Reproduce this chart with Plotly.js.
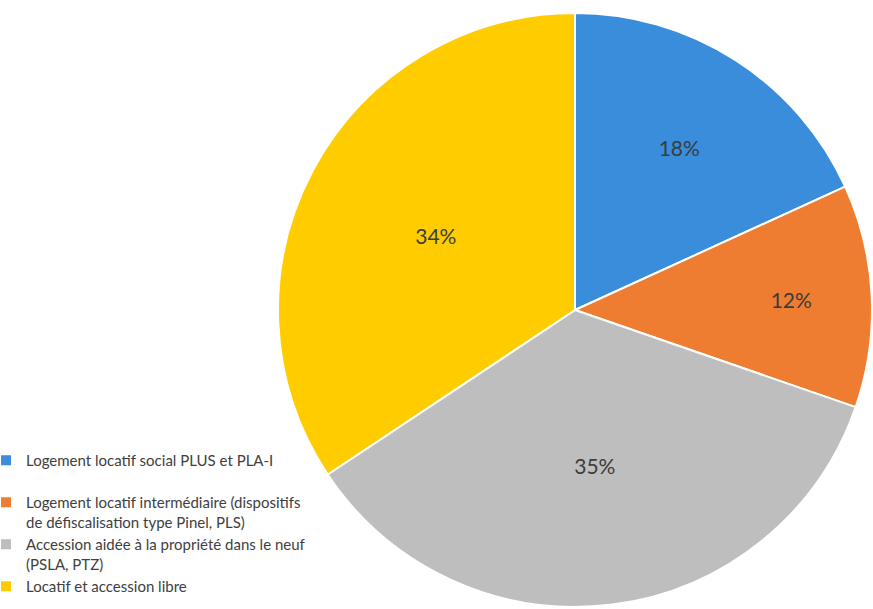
<!DOCTYPE html>
<html>
<head>
<meta charset="utf-8">
<script src="https://cdn.plot.ly/plotly-3.0.1.min.js"></script>
<style>html,body{margin:0;padding:0;background:#fff;}#chart{width:873px;height:609px;}</style>
</head>
<body>
<div id="chart"></div>
<script>
var categories = [
  "Logement locatif social PLUS et PLA-I<br> ",
  "Logement locatif intermédiaire (dispositifs<br>de défiscalisation type Pinel, PLS)",
  "Accession aidée à la propriété dans le neuf<br>(PSLA, PTZ)",
  "Locatif et accession libre"
];
var values = [18, 12, 35, 34];
var percentLabels = ["18%", "12%", "35%", "34%"];
var colors = ["#3a8ddb", "#ef7d31", "#bebebe", "#ffcc00"];

var trace = {
  type: "pie",
  labels: categories,
  values: values,
  text: percentLabels,
  textinfo: "text",
  texttemplate: "%{text}",
  hoverinfo: "label+text",
  sort: false,
  direction: "clockwise",
  rotation: 0,
  marker: {colors: colors, line: {color: "#ffffff", width: 2}},
  textposition: "inside",
  insidetextorientation: "horizontal",
  insidetextfont: {family: "Lato, 'Open Sans', sans-serif", size: 21, color: "#3c3c3c"},
  domain: {x: [278/873, 872/873], y: [2/609, 596/609]}
};

var layout = {
  width: 873, height: 609,
  margin: {l: 0, r: 0, t: 0, b: 0, autoexpand: false},
  paper_bgcolor: "#ffffff",
  showlegend: true,
  legend: {
    x: -0.016, xanchor: "left",
    y: (609 - 444) / 609, yanchor: "top",
    valign: "top",
    font: {family: "Lato, 'Open Sans', sans-serif", size: 15, color: "#404040"},
    bgcolor: "rgba(0,0,0,0)"
  }
};

Plotly.newPlot("chart", [trace], layout, {displayModeBar: false, staticPlot: true});
</script>
</body>
</html>
